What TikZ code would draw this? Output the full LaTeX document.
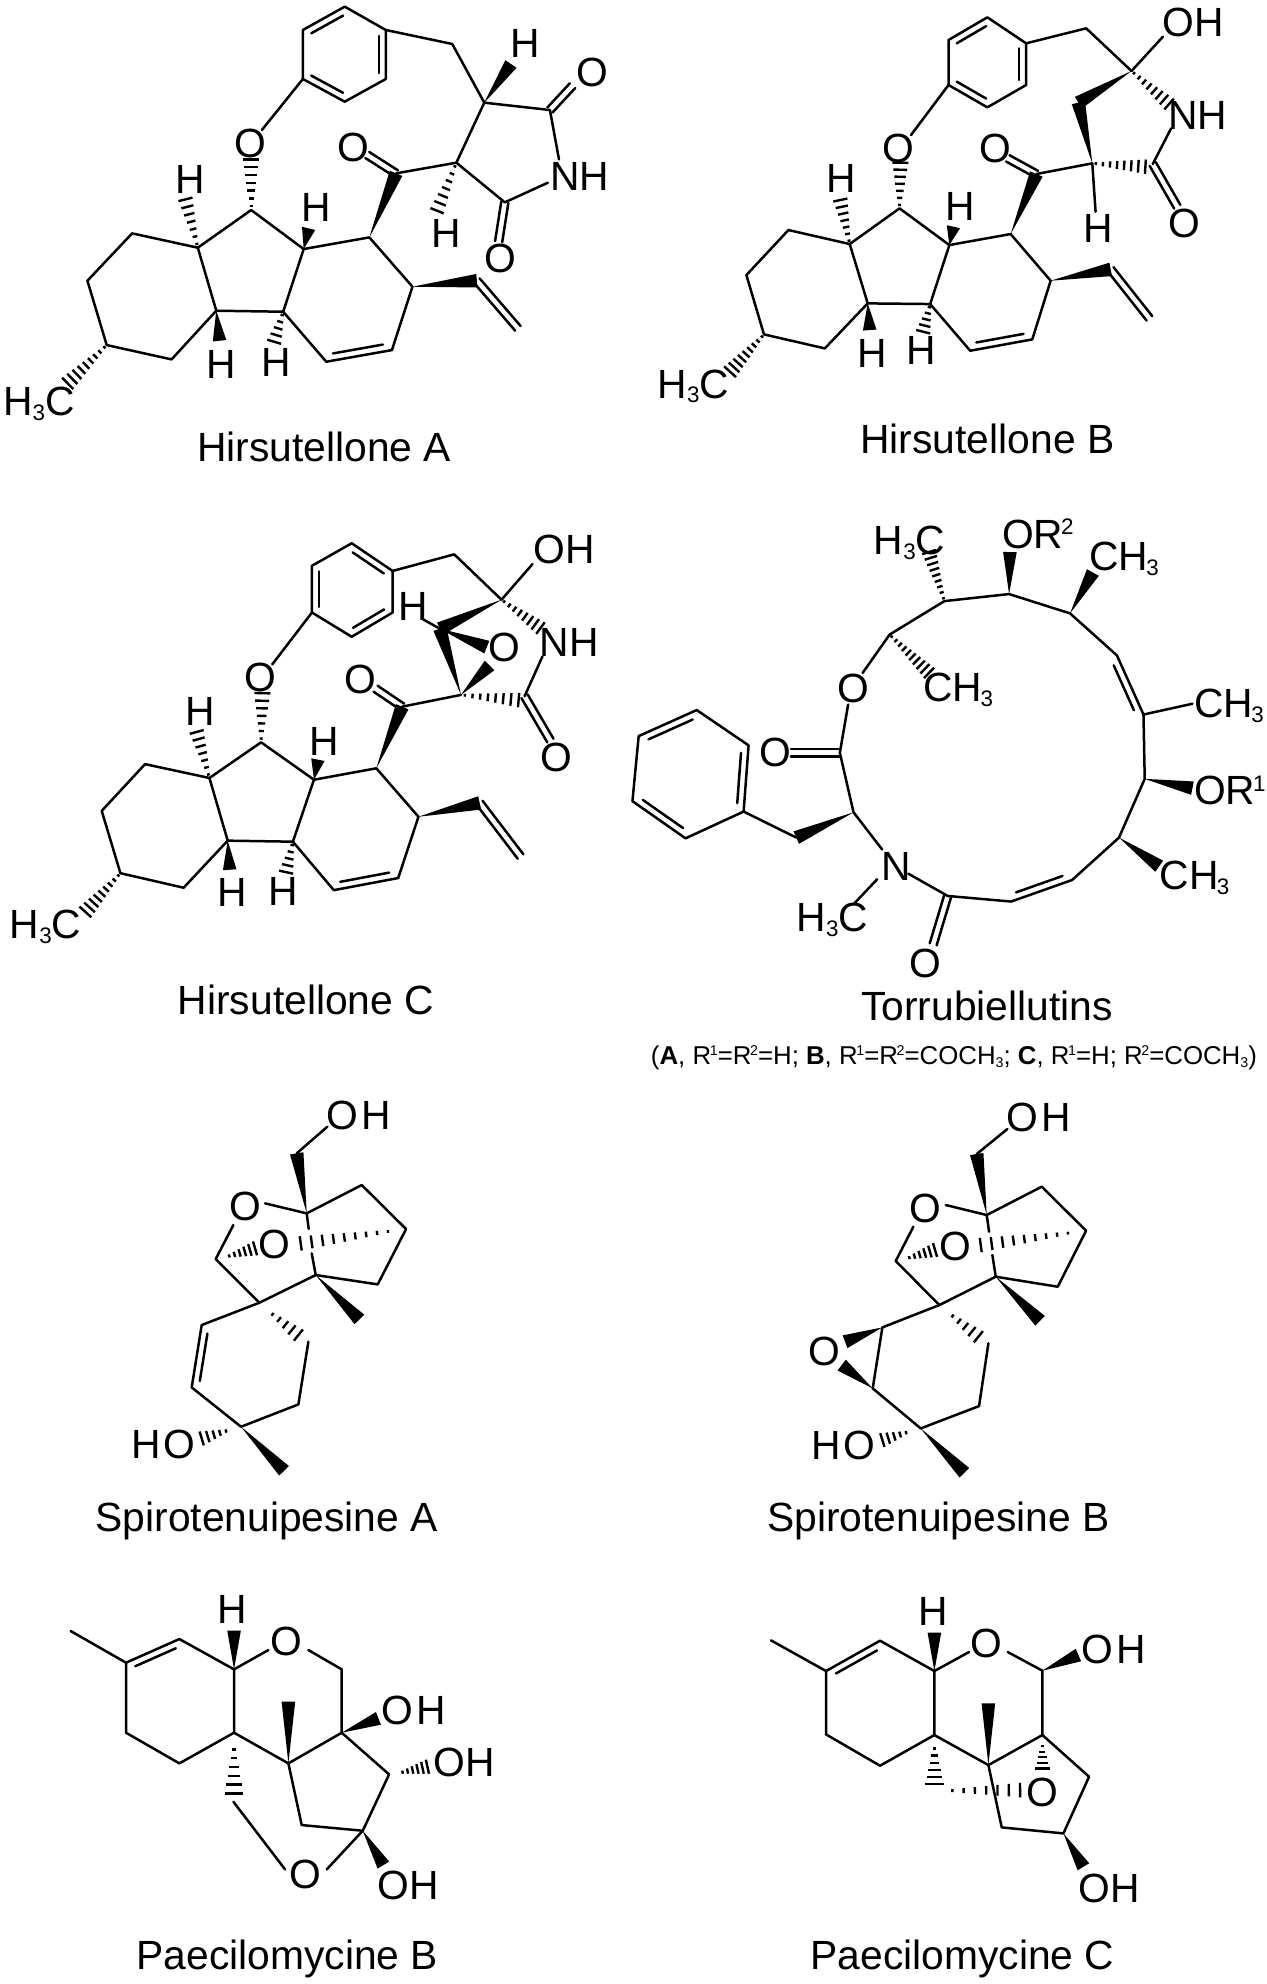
\documentclass[tikz,border=0pt]{standalone}
\usepackage{fontspec}
\usepackage{graphicx}
\setmainfont{Liberation Sans}
\usetikzlibrary{calc}

\newcommand{\subb}[1]{\raisebox{-.12em}{\scalebox{.55}{#1}}}
\newcommand{\supp}[1]{\kern-.05em\raisebox{.33em}{\scalebox{.55}{#1}}}
\newcommand{\atoms}[1]{\foreach \n/\x/\y in {#1} \coordinate (\n) at (\x,\y);}
% solid wedge, thin end on #1
\newcommand{\wdg}[2]{\fill (#1) -- ($(#2)!3.4pt!90:(#1)$) -- ($(#2)!3.4pt!-90:(#1)$) -- cycle;}
% hashed wedge, thin end on #2
\newcommand{\hashb}[4][3.6]{
	\coordinate (hz) at ($(#2)!1.5!(#3)$);
	\foreach \i in {1,...,#4}{
		\pgfmathsetmacro\hfrac{(\i-0.5)/(#4-0.5)}
		\pgfmathsetmacro\hwid{0.5+(#1-0.5)*\hfrac}
		\draw[hashline] ($(#2)!\hfrac!(#3)!\hwid pt!90:(hz)$) -- ($(#2)!\hfrac!(#3)!\hwid pt!-90:(hz)$);
	}
}
% second line inside a ring, #3 is 90 or -90
\newcommand{\innerb}[3]{\draw[bond] ($(#1)!0.12!(#2)!3.5pt!#3:(#2)$) -- ($(#1)!0.88!(#2)!3.5pt!#3:(#2)$);}
\newcommand{\dblb}[2]{
	\draw[bond] ($(#1)!1.8pt!90:(#2)$) -- ($(#2)!1.8pt!-90:(#1)$);
	\draw[bond] ($(#1)!1.8pt!-90:(#2)$) -- ($(#2)!1.8pt!90:(#1)$);
}
% parts that hirsutellones A, B and C share
\newcommand{\hirsucore}{
	\draw[bond] (b1)--(b2)--(b3)--(b4)--(b5)--(b6)--cycle;
	\draw[bond] (b2)--(c1)--(c2);
	\draw[bond] (d1)--(d2)--(d3)--(d4)--(d5)--(d6)--(e1)--(e2)--(e3)--(e4)--(d9)--(d8)--(d7)--(d1);
	\draw[bond] (d7)--(d5);
	\draw[bond] (d9)--(d6);
	\draw[bond] (x5)--(b5);
	\innerb{d3}{d4}{-90}
	\dblb{c6}{q}
	\dblb{v1}{v2}
	\wdg{d1}{c6}
	\wdg{d2}{v1}
	\wdg{d7}{x7}
	\wdg{d6}{x6}
	\hashb[4]{d8}{x8}{7}
	\hashb{d9}{x9}{7}
	\hashb{d5}{xd}{5}
	\hashb[4]{e2}{xm}{9}
	\node[atomlabel] (nO) at (lO) {O};
	\node[atomlabel] (nQ) at (lQ) {O};
	\node[atomlabel] (nH9) at (lH9) {H};
	\node[atomlabel] (nH7) at (lH7) {H};
	\node[atomlabel] (nHd) at (lHd) {H};
	\node[atomlabel] (nH6) at (lH6) {H};
	\node[atomlabel] (nMe) at (lMe) {H\subb{3}C};
}
% parts that spirotenuipesines A and B share
\newcommand{\spirocore}{
	\draw[bond] (a7)--(a6)--(a5)--(a4)--(a1)--(g1);
	\draw[bond] (g2)--(a7)--(a8)--(a3)--(o1);
	\draw[bond] (o2)--(a1);
	\draw[bond] (oh1)--(a2);
	\draw[bond] (c)--(k)--(j);
	\wdg{a1}{a2}
	\wdg{a7}{m1}
	\wdg{c}{m2}
	\hashb{s1}{s2}{6}
	\hashb{s3}{s4}{9}
	\hashb{s5}{j5}{5}
	\hashb{s6}{s7}{5}
	\node[atomlabel] (nOH) at (lOH) {O\kern1.5pt H};
	\node[atomlabel] (nO1) at (lO1) {O};
	\node[atomlabel] (nO2) at (lO2) {O};
	\node[atomlabel] (nHO) at (lHO) {H\kern1.5pt O};
}
% parts that paecilomycines B and C share
\newcommand{\paecore}{
	\draw[bond] (m)--(f1)--(f2)--(f3)--(f4)--(f6)--(f5)--(f1);
	\draw[bond] (f3)--(o1);
	\draw[bond] (o2)--(g1)--(g2)--(g3)--(f4);
	\draw[bond] (g2)--(g4)--(g5)--(g6)--(g3);
	\innerb{f1}{f2}{-90}
	\wdg{f3}{t1}
	\wdg{g3}{t2}
	\wdg{g5}{t3}
	\node[atomlabel] (nH) at (lH) {H};
	\node[atomlabel] (nO) at (lO) {O};
	\node[atomlabel] (nOH) at (lOH) {O\kern1.5pt H};
}

\tikzset{
	bond/.style={line width=1.25pt,line cap=round,line join=round},
	hashline/.style={line width=1.2pt},
	atomlabel/.style={inner sep=0pt,font=\fontsize{20.4}{22}\selectfont,text height=14.6pt,text depth=0pt},
	namelabel/.style={atomlabel},
}

\begin{document}
\begin{tikzpicture}[x=.5pt,y=-.5pt]
	\useasboundingbox (0,0) rectangle (1267,1984);
	% Hirsutellone A
	\begin{scope}[name prefix=ha-,x=.2052pt,y=-.1667pt]
		\atoms{b1/840/20,b2/940/90,b3/940/237,b4/840/305,b5/738/237,b6/738/90,c1/1102/132,c2/1180/308,
			c3/1340/330,c4/1230/607,c5/1112/488,c6/965/520,q/895/465,d1/900/712,d2/1005/860,d3/955/1050,
			d4/795/1085,d5/690/935,d6/527/932,d7/740/747,d8/612/630,d9/482/743,e1/418/1078,e2/260/1035,
			e3/213/842,e4/322/700,v1/1162/842,v2/1262/985,x5/638/390,x6/535/1022,x7/752/685,x8/612/478,
			x9/452/598,xd/668/1025,xm/165/1150,lO/610/430,lQ/860/442,lH9/463/537,lH7/770/622,lHd/672/1085,
			lH6/540/1090,lMe/95/1202,
			w1/1245/192,lH1/1280/130,o1/1395/257,lO1/1443/215,n1/1362/478,n2/1335/548,lNH/1412/528,
			o2/1215/725,lO2/1218/773,h1/1065/632,lH2/1088/700}
		\hirsucore
		\innerb{b6}{b1}{-90}
		\innerb{b2}{b3}{-90}
		\innerb{b4}{b5}{-90}
		\draw[bond] (c2)--(c3)--(n1);
		\draw[bond] (n2)--(c4)--(c5)--(c2);
		\draw[bond] (c5)--(c6);
		\dblb{c3}{o1}
		\dblb{c4}{o2}
		\wdg{c2}{w1}
		\hashb{c5}{h1}{7}
		\node[atomlabel] (nH1) at (lH1) {H};
		\node[atomlabel] (nO1) at (lO1) {O};
		\node[atomlabel] (nNH) at (lNH) {NH};
		\node[atomlabel] (nO2) at (lO2) {O};
		\node[atomlabel] (nH2) at (lH2) {H};
		\node[namelabel] (title) at (790,1340) {Hirsutellone A};
	\end{scope}
	% Hirsutellone B
	\begin{scope}[shift={(630,0)},name prefix=hb-,x=.2042pt,y=-.1667pt]
		\atoms{b1/875/52,b2/970/130,b3/970/255,b4/875/322,b5/780/255,b6/780/120,c1/1117/85,c2/1228/213,
			c3/1132/490,c4/1280/492,c6/995/522,q/925/475,d1/932/702,d2/1030/842,d3/985/1018,
			d4/833/1052,d5/735/912,d6/582/910,d7/782/735,d8/660/625,d9/538/732,e1/477/1045,e2/328/1003,
			e3/285/825,e4/388/690,v1/1177/808,v2/1272/955,x5/688/405,x6/587/990,x7/792/680,x8/662/488,
			x9/515/600,xd/718/995,xm/245/1115,lO/657/443,lQ/895/445,lH9/518/535,lH7/808/618,lHd/712/1050,
			lH6/592/1058,lMe/155/1150,
			p/1098/308,w2/1305/110,lOH/1380/65,h3/1320/312,lNH/1390/345,n1/1325/385,o1/1340/620,lO1/1358/670,
			h4/1262/500,h1/1140/635,lH1/1147/685}
		\hirsucore
		\innerb{b6}{b1}{-90}
		\innerb{b2}{b3}{-90}
		\innerb{b4}{b5}{-90}
		\draw[bond] (c2)--(w2);
		\draw[bond] (n1)--(c4);
		\draw[bond] (c3)--(h1);
		\draw[bond] (c3)--(c6);
		\dblb{c4}{o1}
		\wdg{c2}{p}
		\wdg{c3}{p}
		\hashb{c2}{h3}{8}
		\hashb{c3}{h4}{8}
		\node[atomlabel] (nOH) at (lOH) {OH};
		\node[atomlabel] (nNH) at (lNH) {NH};
		\node[atomlabel] (nO1) at (lO1) {O};
		\node[atomlabel] (nH1) at (lH1) {H};
		\node[namelabel] (title) at (875,1315) {Hirsutellone B};
	\end{scope}
	% Hirsutellone C
	\begin{scope}[shift={(0,500)},name prefix=hc-,x=.1987pt,y=-.1731pt]
		\atoms{b1/885/125,b2/988/205,b3/988/325,b4/885/395,b5/785/325,b6/785/190,c1/1143/157,c2/1262/288,
			c3/1160/563,c4/1320/567,c6/1012/597,q/945/545,d1/947/775,d2/1053/915,d3/1002/1092,
			d4/840/1127,d5/737/987,d6/573/984,d7/790/808,d8/657/700,d9/527/803,e1/462/1120,e2/303/1078,
			e3/256/898,e4/365/763,v1/1207/875,v2/1310/1030,x5/685/475,x6/578/1068,x7/800/750,x8/660/558,
			x9/495/670,xd/720/1075,xm/215/1190,lO/655/512,lQ/908/518,lH9/505/610,lH7/815/695,lHd/712/1130,
			lH6/585/1132,lMe/115/1225,
			p/1107/372,w2/1340/185,lOH/1420/140,h3/1360/370,lNH/1432/410,n1/1365/452,o1/1385/695,lO1/1400/742,
			h4/1305/578,h1/1065/345,lH1/1040/307,ep1/1225/425,ep2/1232/478,lO3/1270/423}
		\hirsucore
		\innerb{b1}{b2}{-90}
		\innerb{b3}{b4}{-90}
		\innerb{b5}{b6}{-90}
		\draw[bond] (c2)--(w2);
		\draw[bond] (n1)--(c4);
		\draw[bond] (p)--(h1);
		\draw[bond] (c3)--(c6);
		\dblb{c4}{o1}
		\wdg{c2}{p}
		\wdg{c3}{p}
		\wdg{p}{ep1}
		\wdg{c3}{ep2}
		\hashb{c2}{h3}{8}
		\hashb{c3}{h4}{8}
		\node[atomlabel] (nOH) at (lOH) {OH};
		\node[atomlabel] (nNH) at (lNH) {NH};
		\node[atomlabel] (nO1) at (lO1) {O};
		\node[atomlabel] (nO3) at (lO3) {O};
		\node[atomlabel] (nH1) at (lH1) {H};
		\node[namelabel] (title) at (770,1445) {Hirsutellone C};
	\end{scope}
	% Torrubiellutins
	\begin{scope}[shift={(620,500)},name prefix=tr-,x=.2074pt,y=-.1859pt]
		\atoms{r2/650/362,r3/782/272,r4/938/253,r5/1085/305,r6/1198/418,r7/1262/577,r8/1265/750,r9/1203/908,
			r10/1090/1022,r11/943/1080,r12/790/1065,r14/563/840,r15/530/680,s1/425/908,
			p1/298/838,p2/310/660,p3/185/565,p4/45/635,p5/30/810,p6/158/910,
			o1/585/465,o2/550/550,q1/412/680,n1/632/940,n2/695/1005,n3/620/1020,n4/565/1085,q2/755/1195,
			w1/1300/985,w2/1380/775,w3/1140/195,w4/940/140,h1/745/140,h2/745/465,w5/1380/548,
			lO/562/505,lQ1/375/678,lN/665/985,lQ2/735/1245,lA/512/1122,lG/698/108}
		\draw[bond] (o1)--(r2)--(r3)--(r4)--(r5)--(r6)--(r7)--(r8)--(r9)--(r10)--(r11)--(r12)--(n2);
		\draw[bond] (o2)--(r15)--(r14)--(n1);
		\draw[bond] (s1)--(p1)--(p2)--(p3)--(p4)--(p5)--(p6)--(p1);
		\draw[bond] (n3)--(n4);
		\draw[bond] (r7)--(w5);
		\innerb{r7}{r6}{90}
		\innerb{r11}{r10}{90}
		\innerb{p1}{p2}{90}
		\innerb{p3}{p4}{90}
		\innerb{p5}{p6}{90}
		\dblb{r15}{q1}
		\dblb{r12}{q2}
		\wdg{r14}{s1}
		\wdg{r9}{w1}
		\wdg{r8}{w2}
		\wdg{r5}{w3}
		\wdg{r4}{w4}
		\hashb{r3}{h1}{9}
		\hashb{r2}{h2}{10}
		\node[atomlabel] (nO) at (lO) {O};
		\node[atomlabel] (nQ1) at (lQ1) {O};
		\node[atomlabel] (nN) at (lN) {N};
		\node[atomlabel] (nQ2) at (lQ2) {O};
		\node[atomlabel] (nA) at (lA) {H\subb{3}C};
		\node[atomlabel,anchor=west] (nB) at (1300,1008) {CH\kern-.8pt\subb{3}};
		\node[atomlabel,anchor=west] (nC) at (1383,780) {OR\supp{1}};
		\node[atomlabel,anchor=west] (nD) at (1383,545) {CH\kern-.8pt\subb{3}};
		\node[atomlabel,anchor=west] (nE) at (1130,150) {CH\kern-.8pt\subb{3}};
		\node[atomlabel,anchor=west] (nF) at (920,90) {OR\supp{2}};
		\node[atomlabel] (nG) at (lG) {H\subb{3}C};
		\node[atomlabel,anchor=west] (nH) at (730,503) {CH\kern-.8pt\subb{3}};
		\node[namelabel] (title) at (885,1360) {Torrubiellutins};
		\node[inner sep=0pt,font=\fontsize{12.9}{14}\selectfont] (note) at (805,1500)
			{(\textbf{A}, R\supp{1}=R\supp{2}=H; \textbf{B}, R\supp{1}=R\supp{2}=COCH\subb{3}; \textbf{C}, R\supp{1}=H; R\supp{2}=COCH\subb{3})};
	\end{scope}
	% Spirotenuipesine A
	\begin{scope}[shift={(80,1080)},name prefix=sa-,x=.1667pt,y=-.1667pt]
		\atoms{a1/680/400,a2/650/220,a3/407/537,a4/845/315,a5/978/447,a6/893/613,
			a7/707/585,a8/538/668,g1/686/447,g2/695/520,o1/460/435,o2/555/370,oh1/742/140,
			c/483/1040,k/655/973,j/685/785,j5/655/765,m1/838/718,m2/612/1172,s1/440/530,s2/525/505,
			s3/940/452,s4/662/490,s5/568/695,s6/447/1050,s7/365/1075,
			lOH/835/105,lO1/495/378,lO2/583/492,lHO/250/1090,e1/365/735,e2/335/922}
		\spirocore
		\draw[bond] (a8)--(e1)--(e2)--(c);
		\innerb{e1}{e2}{90}
		\node[namelabel] (title) at (560,1310) {Spirotenuipesine A};
	\end{scope}
	% Spirotenuipesine B
	\begin{scope}[shift={(750,1080)},name prefix=sb-,x=.1667pt,y=-.1667pt]
		\atoms{a1/710/405,a2/680/222,a3/437/543,a4/875/320,a5/1008/452,a6/923/620,
			a7/737/590,a8/568/675,g1/717/455,g2/727/525,o1/490/440,o2/587/375,oh1/772/147,
			c/512/1045,k/687/978,j/715/790,j5/685/770,m1/870/722,m2/643/1178,s1/470/535,s2/555/510,
			s3/970/457,s4/692/495,s5/598/700,s6/477/1055,s7/397/1080,
			lOH/865/110,lO1/525/383,lO2/615/498,lHO/280/1095,e1/397/742,e2/368/925,w1/285/785,w2/275/855,lO3/222/812}
		\spirocore
		\draw[bond] (a8)--(e1)--(e2)--(c);
		\wdg{e1}{w1}
		\wdg{e2}{w2}
		\node[atomlabel] (nO3) at (lO3) {O};
		\node[namelabel] (title) at (565,1310) {Spirotenuipesine B};
	\end{scope}
	% Paecilomycine B
	\begin{scope}[shift={(40,1580)},name prefix=pb-,x=.1667pt,y=-.1667pt]
		\atoms{m/92/153,f1/258/248,f2/418/177,f3/582/268,f4/582/458,f5/258/458,f6/418/550,o1/685/210,o2/805/210,
			g1/905/268,g2/905/458,g3/745/550,g4/1047/583,g5/968/752,g6/785/735,t1/582/152,t2/745/365,t3/1030/855,
			lH/578/87,lO/740/182,lOH/1122/390,
			t4/1015/415,h1/1080/578,h2/1162/560,lOH2/1272/545,lOH3/1105/915,o3/860/868,o4/735/868,lO2/795/880,
			h3/582/495,h4/582/640,y/580/665}
		\paecore
		\draw[bond] (g5)--(o3);
		\draw[bond] (y)--(o4);
		\wdg{g2}{t4}
		\hashb{h1}{h2}{6}
		\hashb[4.6]{h3}{h4}{6}
		\node[atomlabel] (nOH2) at (lOH2) {OH};
		\node[atomlabel] (nOH3) at (lOH3) {OH};
		\node[atomlabel] (nO2) at (lO2) {O};
		\node[namelabel] (title) at (742,1125) {Paecilomycine B};
	\end{scope}
	% Paecilomycine C
	\begin{scope}[shift={(750,1580)},name prefix=pc-,x=.1667pt,y=-.1667pt]
		\atoms{m/63/181,f1/228/273,f2/390/182,f3/553/273,f4/553/465,f5/228/463,f6/390/557,o1/657/216,o2/773/216,
			g1/877/272,g2/877/465,g3/715/555,g4/1017/590,g5/940/760,g6/755/742,t1/553/158,t2/715/370,t3/1000/860,
			lH/550/92,lO/710/190,lOH/1090/207,
			t4/985/225,lOH3/1077/922,lO2/877/635,h1/877/490,h2/877/565,h3/553/495,h4/553/612,h5/590/632,h6/810/630}
		\paecore
		\wdg{g1}{t4}
		\hashb{h1}{h2}{5}
		\hashb[4.6]{h3}{h4}{6}
		\hashb{h5}{h6}{7}
		\node[atomlabel] (nOH3) at (lOH3) {OH};
		\node[atomlabel] (nO2) at (lO2) {O};
		\node[namelabel] (title) at (637,1125) {Paecilomycine C};
	\end{scope}
\end{tikzpicture}
\end{document}
